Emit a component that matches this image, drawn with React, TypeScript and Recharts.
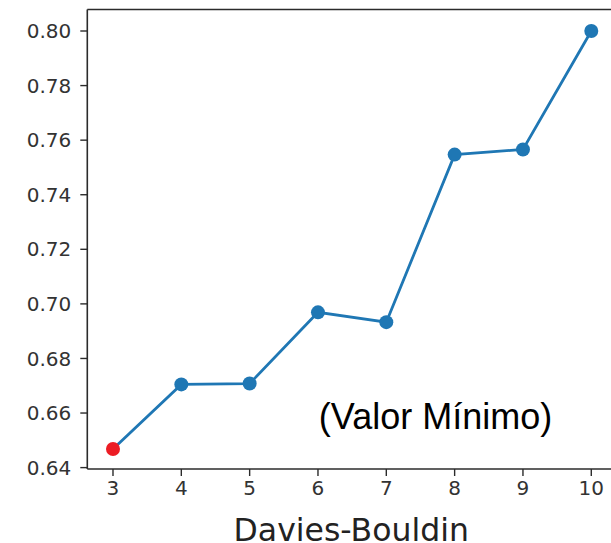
import React from "react";
import { LineChart, Line, XAxis, YAxis, ReferenceDot, ReferenceLine } from "recharts";

// Davies-Bouldin score per number of clusters
const clusters = [3, 4, 5, 6, 7, 8, 9, 10];
const scores = [0.6468, 0.6705, 0.6708, 0.6969, 0.6933, 0.7547, 0.7566, 0.8];
const yTicks = [0.64, 0.66, 0.68, 0.7, 0.72, 0.74, 0.76, 0.78, 0.8];
const xTicks = [3, 4, 5, 6, 7, 8, 9, 10];
const noteText = "(Valor Mínimo)";
const notePos = { x: 7.72, y: 0.6542 };
const xLabel = "Davies-Bouldin";

const X_DOMAIN: [number, number] = [2.624, 10.35];
const Y_DOMAIN: [number, number] = [0.63949, 0.80788];

const data = clusters.map((k, i) => ({ k, score: scores[i] }));
const minScore = Math.min(...scores);

const BLUE = "#1f77b4";
const RED = "#ec1c24";
const SPINE = "#2b2b2b";
const TICK_FONT = "'DejaVu Sans', sans-serif";

const renderDot = (props: any) => {
  const { cx, cy, payload, index } = props;
  const isMin = payload.score === minScore;
  return (
    <circle
      key={`dot-${index}`}
      cx={cx}
      cy={cy}
      r={7}
      fill={isMin ? RED : BLUE}
      stroke="none"
    />
  );
};

const noteLabel = (props: any) => {
  const { viewBox } = props;
  return (
    <text
      x={viewBox.x}
      y={viewBox.y}
      textAnchor="middle"
      fontFamily="'Liberation Sans', Arial, sans-serif"
      fontSize={36}
      fill="#000"
    >
      {noteText}
    </text>
  );
};

export default function App() {
  return (
    <div
      style={{
        position: "absolute",
        left: 0,
        top: 0,
        width: 611,
        height: 543,
        overflow: "hidden",
        background: "#fff",
      }}
    >
      <LineChart
        width={620}
        height={543}
        data={data}
        margin={{ top: 9.5, right: 4.8, bottom: 0, left: 0 }}
      >
        <XAxis
          dataKey="k"
          type="number"
          domain={X_DOMAIN}
          allowDataOverflow
          ticks={xTicks}
          height={74}
          tickSize={7}
          tickMargin={5}
          axisLine={{ stroke: SPINE, strokeWidth: 1.6 }}
          tickLine={{ stroke: SPINE, strokeWidth: 1.4 }}
          tick={{ fill: "#333", fontSize: 20, fontFamily: TICK_FONT }}
          label={{
            value: xLabel,
            position: "insideBottom",
            offset: 2,
            fill: "#222",
            fontSize: 31.5,
            fontFamily: TICK_FONT,
          }}
        />
        <YAxis
          type="number"
          domain={Y_DOMAIN}
          allowDataOverflow
          ticks={yTicks}
          width={87.3}
          tickSize={7}
          tickMargin={9}
          tickFormatter={(v: number) => v.toFixed(2)}
          axisLine={{ stroke: SPINE, strokeWidth: 1.6 }}
          tickLine={{ stroke: SPINE, strokeWidth: 1.4 }}
          tick={{ fill: "#333", fontSize: 20, fontFamily: TICK_FONT }}
        />
        {/* top frame edge */}
        <ReferenceLine y={Y_DOMAIN[1]} stroke={SPINE} strokeWidth={1.6} />
        <Line
          dataKey="score"
          stroke={BLUE}
          strokeWidth={2.8}
          dot={renderDot}
          activeDot={false}
          isAnimationActive={false}
        />
        <ReferenceDot
          x={notePos.x}
          y={notePos.y}
          r={0}
          fill="none"
          stroke="none"
          label={noteLabel}
        />
      </LineChart>
    </div>
  );
}
